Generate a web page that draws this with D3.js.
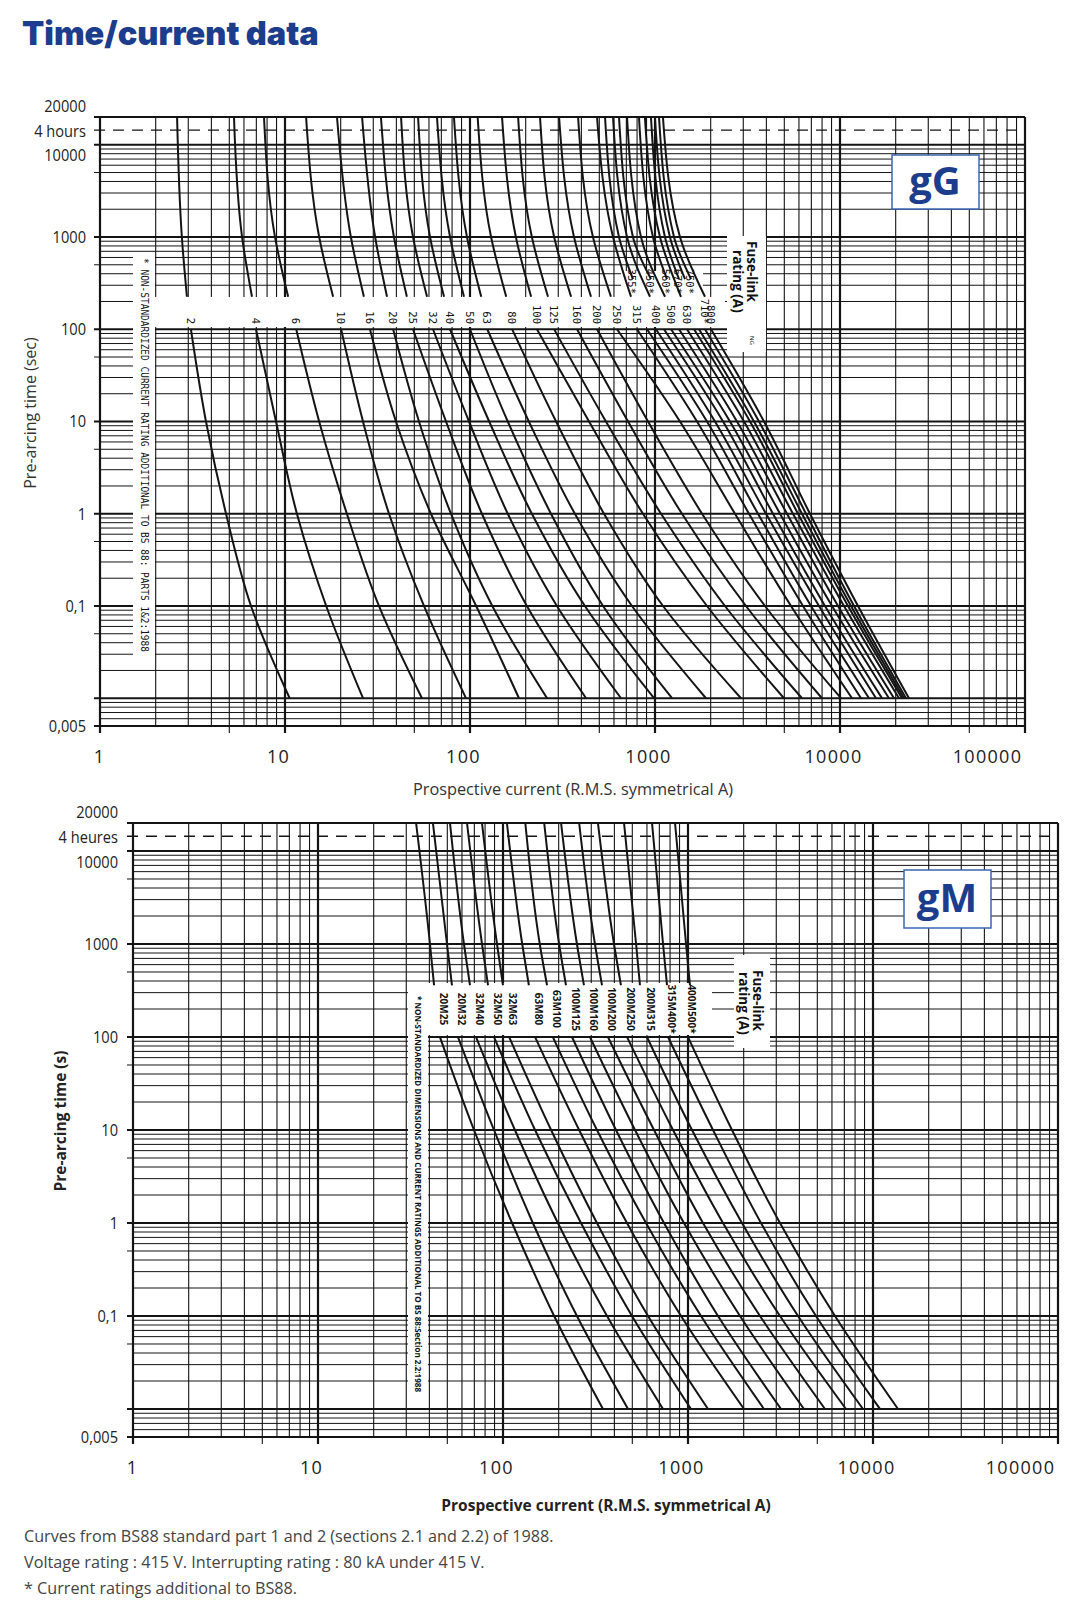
<!DOCTYPE html>
<html><head><meta charset="utf-8">
<script src="https://cdn.jsdelivr.net/npm/d3@7"></script>
<style>body{margin:0;background:#fff}svg{display:block}</style>
</head><body>
<svg id="c" width="1080" height="1602"></svg>
<script>
// ---------------- DATA ----------------
const xTickValues = [1, 10, 100, 1000, 10000, 100000];
const yTickValuesG = [20000, 14400, 10000, 1000, 100, 10, 1, 0.1, 0.005];
const yTickLabelsG = ['20000', '4 hours', '10000', '1000', '100', '10', '1', '0,1', '0,005'];
const yTickValuesM = [20000, 14400, 10000, 1000, 100, 10, 1, 0.1, 0.005];
const yTickLabelsM = ['20000', '4 heures', '10000', '1000', '100', '10', '1', '0,1', '0,005'];

// gG fuse-links
const ratingsG = ['2','4','6','10','16','20','25','32','40','50','63','80','100','125','160','200','250','315','355*','400','450*','500','560*','630','670*','710*','750*','800'];
const upperRowLabelsG = ['355*','450*','560*','670*','750*'];
const upperTimesG = [20000, 1000];          // + end time below
const upperEndTimeG = 225, upperEndTimeGStar = 350;
const lowerTimesG = [100, 10, 1, 0.1, 0.01];
const upperCurrentsG = [
 [2.61,2.77,2.95],[5.30,5.86,6.63],[7.70,8.83,10.4],[13.0,15.3,18.2],[19.1,22.7,26.7],
 [26.1,30.7,35.6],[33.0,38.8,45.6],[42.4,49.2,58.6],[52.4,60.8,72.4],[66.3,78.0,92.8],
 [81.9,96.3,115],[110,130,157],[149,177,214],[182,216,264],[239,285,352],
 [303,365,451],[384,462,578],[486,593,742],[537,639,760],[593,706,940],
 [639,760,951],[706,840,1133],[819,975,1161],[882,1064,1382],[951,1132,1348],
 [999,1204,1453],[1051,1267,1565],[1104,1365,1863]
];
const lowerCurrentsG = [
 [3.10,3.74,4.80,6.55,10.6],[6.97,8.94,11.6,16.7,26.4],[11.5,15.3,21.6,32.2,55.0],
 [20.1,26.4,36.5,56.4,95.1],[28.8,39.8,61.5,108,184],[38.4,53.0,78.9,132,261],
 [49.2,74.2,116,203,424],[63.1,98.8,160,295,655],[78.0,127,216,418,988],
 [100,160,274,524,1236],[124,208,369,751,1887],[169,292,530,1105,2917],
 [230,440,861,1910,4981],[285,543,1078,2390,6232],[379,715,1399,3104,7991],
 [486,917,1796,3933,10124],[623,1365,2706,5434,11613],[799,1687,3222,6310,12989],
 [905,1910,3604,6970,14350],[1012,2110,3981,7700,15654],[1118,2332,4343,8298,16865],
 [1221,2543,4740,9055,18400],[1348,2774,5171,9754,19584],[1489,3028,5569,10510,20840],
 [1625,3263,5929,11050,21630],[1729,3428,6232,11470,22170],[1863,3649,6550,11910,22740],
 [2008,3883,6883,12510,23600]
];

// gM fuse-links
const ratingsM = ['20M25','20M32','32M40','32M50','32M63','63M80','63M100','100M125','100M160','100M200','200M250','200M315','315M400*','400M500*'];
const upperTimesM = [20000, 1000, 360];
const lowerTimesM = [100, 10, 1, 0.1, 0.01];
const upperCurrentsM = [
 [33.9,40.3,42.4],[41.8,49.8,53.0],[51.7,61.5,66.3],[63.9,77.0,83.0],[77.0,92.8,100],
 [105,127,138],[132,158,173],[167,201,219],[206,251,274],[258,314,343],
 [326,398,434],[451,524,550],[639,733,770],[851,976,1025]
];
const lowerCurrentsM = [
 [45.6,69.7,112,189,347],[57.1,89.4,145,251,474],[71.5,116,198,365,733],
 [89.4,149,264,498,1038],[108,182,322,608,1283],[149,258,468,917,2008],
 [186,322,593,1176,2575],[236,408,742,1453,3182],[295,517,951,1910,4236],
 [369,655,1205,2450,5503],[468,830,1546,3143,7146],[600,1051,1958,3933,8830],
 [780,1365,2481,4920,10910],[1000,1729,3143,6232,13650]
];

// ---------------- DRAWING ----------------
const svg = d3.select('#c');
const fontNum = "'Open Sans','Noto Sans',sans-serif";
const fontText = "'Open Sans','Noto Sans',sans-serif";
const blue = '#1c3d8c';
const ink = '#141414';

svg.append('rect').attr('width',1080).attr('height',1602).attr('fill','#fff');

svg.append('text').attr('x',22).attr('y',45).text('Time/current data')
  .attr('font-family',"Inter,'Open Sans',sans-serif").attr('font-weight',900)
  .attr('font-size',32.5).attr('fill',blue);

function drawPanel(p) {
  const g = svg.append('g');
  const x = d3.scaleLog().domain([1, 1e5]).range([p.x0, p.x1]);
  const y = d3.scaleLog().domain([20000, 0.005]).range([p.y0, p.y1]);

  // vertical grid
  const vVals = [];
  for (let e = 0; e < 5; e++) for (let m = 1; m <= 9; m++) vVals.push({v: m * Math.pow(10, e), major: m === 1, five: m === 5});
  vVals.push({v: 1e5, major: true, five: false});
  g.append('g').selectAll('line').data(vVals).join('line')
    .attr('x1', d => x(d.v)).attr('x2', d => x(d.v))
    .attr('y1', p.y0).attr('y2', d => (d.major || d.five) ? p.y1 + 7 : p.y1)
    .attr('stroke', ink).attr('stroke-width', d => d.major ? 2.2 : 1.1);

  // horizontal grid
  const mults = [1,2,3,4,5,6,7,8,9];
  const hVals = [];
  for (let e = -3; e <= 4; e++) for (const m of mults) {
    const v = m * Math.pow(10, e);
    if (v >= 0.00499 && v <= 10001) hVals.push({v, major: m === 1 || v < 0.00501, five: m === 5});
  }
  hVals.push({v: 20000, major: true, five: false});
  g.append('g').selectAll('line').data(hVals).join('line')
    .attr('x1', d => (d.major || d.five) ? p.x0 - 6 : p.x0).attr('x2', p.x1)
    .attr('y1', d => y(d.v)).attr('y2', d => y(d.v))
    .attr('stroke', ink).attr('stroke-width', d => d.major ? 2.2 : 1.0);

  // 4 hours dashed line
  g.append('line').attr('x1', p.x0 - 6).attr('x2', p.x1).attr('y1', y(14400)).attr('y2', y(14400))
    .attr('stroke', ink).attr('stroke-width', 1.3).attr('stroke-dasharray', '11,8');

  // y axis labels (horizontally condensed)
  const pad = p.x0 - p.yLabelRight;
  const ya = g.append('g').attr('transform', `translate(${p.x0},0)`)
    .call(d3.axisLeft(y).tickValues(p.yTicks).tickFormat((d, i) => p.yLabels[i]).tickSize(0).tickPadding(pad));
  ya.select('.domain').remove();
  ya.selectAll('text').attr('font-family', fontNum).attr('font-size', 17).attr('fill', '#222')
    .attr('x', -pad / 0.86).attr('transform', 'scale(0.86,1)')
    .attr('dy', d => d === 20000 ? '-0.3em' : d === 14400 ? '0.38em' : d === 10000 ? '0.95em' : '0.32em');

  // x axis labels
  const xa = g.append('g').attr('transform', `translate(0,${p.y1})`)
    .call(d3.axisBottom(x).tickValues(xTickValues).tickFormat(d3.format('d')).tickSize(0).tickPadding(p.xLabPad));
  xa.select('.domain').remove();
  xa.selectAll('text').attr('font-family', fontNum).attr('font-size', 18).attr('fill', '#222')
    .attr('letter-spacing', 1.3)
    .attr('dx', d => d === 1 ? -1 : d === 100000 ? -38 : -7);

  // white label areas
  g.append('g').selectAll('rect').data(p.whites).join('rect')
    .attr('x', d => d[0]).attr('y', d => d[1]).attr('width', d => d[2]).attr('height', d => d[3])
    .attr('fill', '#fff');

  // curves
  const line = d3.line().x(d => x(d[0])).y(d => y(d[1])).curve(d3.curveMonotoneY);
  const cg = g.append('g').attr('fill', 'none').attr('stroke', ink).attr('stroke-width', 2);
  p.ratings.forEach((r, i) => {
    const ut = p.upperTimes(r);
    const up = p.upper[i].map((c, k) => [c, ut[k]]);
    const lo = p.lower[i].map((c, k) => [c, p.lowerTimes[k]]);
    cg.append('path').attr('d', line(up));
    cg.append('path').attr('d', line(lo));
  });

  return {g, x, y};
}

// ---- gG panel ----
const G = drawPanel({
  x0: 100, x1: 1025, y0: 117, y1: 726,
  yTicks: yTickValuesG, yLabels: yTickLabelsG, yLabelRight: 86, xLabPad: 24,
  whites: [[133,252,22,406],[155,297,570,30],[621,271,82,27],[727,236,39,116]],
  ratings: ratingsG, upper: upperCurrentsG, lower: lowerCurrentsG, lowerTimes: lowerTimesG,
  upperTimes: r => upperTimesG.concat([r.endsWith('*') ? upperEndTimeGStar : upperEndTimeG])
});
// gG curve labels
G.g.append('g').selectAll('text').data(ratingsG).join('text')
  .attr('transform', (r, i) => {
    const top = upperRowLabelsG.includes(r);
    const xx = top ? G.x(upperCurrentsG[i][2]) - 1 : G.x(lowerCurrentsG[i][0]) + (r === '710*' ? 6 : 0);
    return `translate(${xx},${top ? 294 : 324}) rotate(90)`;
  })
  .attr('text-anchor', 'end').attr('dominant-baseline', 'central')
  .attr('font-family', "'DejaVu Sans Mono',monospace").attr('font-size', 10.5).attr('fill', '#111')
  .text(r => r);

// gG note
G.g.append('text').attr('transform', 'translate(144,258) rotate(90)')
  .attr('dominant-baseline', 'central')
  .attr('font-family', "'DejaVu Sans Mono',monospace").attr('font-size', 10).attr('fill', '#111')
  .attr('textLength', 394).attr('lengthAdjust', 'spacingAndGlyphs')
  .text('* NON-STANDARDIZED CURRENT RATING ADDITIONAL TO BS 88: PARTS 1&2:1988');

// Fuse-link box gG
G.g.append('text').attr('transform', 'translate(752,241) rotate(90)').attr('dominant-baseline','central')
  .attr('font-family', fontText).attr('font-weight', 700).attr('font-size', 13.5).attr('fill', '#111').text('Fuse-link');
G.g.append('text').attr('transform', 'translate(738,250) rotate(90)').attr('dominant-baseline','central')
  .attr('font-family', fontText).attr('font-weight', 700).attr('font-size', 13.5).attr('fill', '#111').text('rating (A)');
G.g.append('text').attr('transform', 'translate(752,336) rotate(90)').attr('dominant-baseline','central')
  .attr('font-family', fontText).attr('font-size', 6).attr('fill', '#111').text('NG');

// gG box
svg.append('rect').attr('x', 892).attr('y', 155).attr('width', 87).attr('height', 54)
  .attr('fill', '#fff').attr('stroke', '#3a66b0').attr('stroke-width', 1.5);
svg.append('text').attr('x', 935).attr('y', 195).attr('text-anchor', 'middle')
  .attr('font-family', fontText).attr('font-weight', 700).attr('font-size', 40).attr('fill', blue).text('gG');

// gG titles
svg.append('text').attr('transform', 'translate(36,413) rotate(-90)').attr('text-anchor', 'middle')
  .attr('font-family', fontText).attr('font-size', 16).attr('fill', '#333').text('Pre-arcing time (sec)');
svg.append('text').attr('x', 573).attr('y', 795).attr('text-anchor', 'middle')
  .attr('font-family', fontText).attr('font-size', 16.3).attr('fill', '#333').text('Prospective current (R.M.S. symmetrical A)');

// ---- gM panel ----
const M = drawPanel({
  x0: 133, x1: 1058, y0: 823, y1: 1437,
  yTicks: yTickValuesM, yLabels: yTickLabelsM, yLabelRight: 118, xLabPad: 24,
  whites: [[408,983,20,415],[428,983,284,52],[734,955,36,93]],
  ratings: ratingsM, upper: upperCurrentsM, lower: lowerCurrentsM, lowerTimes: lowerTimesM,
  upperTimes: r => upperTimesM
});
M.g.append('g').selectAll('text').data(ratingsM).join('text')
  .attr('transform', (r, i) => `translate(${M.x(lowerCurrentsM[i][0]) + 4},1009) rotate(90)`)
  .attr('text-anchor', 'middle').attr('dominant-baseline', 'central')
  .attr('font-family', fontNum).attr('font-weight', 700).attr('font-size', 10).attr('fill', '#111')
  .text(r => r);
M.g.append('text').attr('transform', 'translate(418,996) rotate(90)')
  .attr('dominant-baseline', 'central')
  .attr('font-family', fontNum).attr('font-weight', 700).attr('font-size', 9.5).attr('fill', '#111')
  .attr('textLength', 396).attr('lengthAdjust', 'spacingAndGlyphs')
  .text('* NON-STANDARDIZED DIMENSIONS AND CURRENT RATINGS ADDITIONAL TO BS 88:Section 2.2:1988');
M.g.append('text').attr('transform', 'translate(758,970) rotate(90)').attr('dominant-baseline','central')
  .attr('font-family', fontText).attr('font-weight', 700).attr('font-size', 13.5).attr('fill', '#111').text('Fuse-link');
M.g.append('text').attr('transform', 'translate(744,972) rotate(90)').attr('dominant-baseline','central')
  .attr('font-family', fontText).attr('font-weight', 700).attr('font-size', 13.5).attr('fill', '#111').text('rating (A)');

svg.append('rect').attr('x', 904).attr('y', 870).attr('width', 87).attr('height', 58)
  .attr('fill', '#fff').attr('stroke', '#3a66b0').attr('stroke-width', 1.5);
svg.append('text').attr('x', 947).attr('y', 912).attr('text-anchor', 'middle')
  .attr('font-family', fontText).attr('font-weight', 700).attr('font-size', 40).attr('fill', blue).text('gM');

svg.append('text').attr('transform', 'translate(66,1121) rotate(-90)').attr('text-anchor', 'middle')
  .attr('font-family', fontText).attr('font-weight', 700).attr('font-size', 15.5).attr('fill', '#222').text('Pre-arcing time (s)');
svg.append('text').attr('x', 606).attr('y', 1511).attr('text-anchor', 'middle')
  .attr('font-family', fontText).attr('font-weight', 700).attr('font-size', 15.5).attr('fill', '#222').text('Prospective current (R.M.S. symmetrical A)');

// footer
const footer = ['Curves from BS88 standard part 1 and 2 (sections 2.1 and 2.2) of 1988.',
  'Voltage rating : 415 V. Interrupting rating : 80 kA under 415 V.',
  '* Current ratings additional to BS88.'];
svg.append('g').selectAll('text').data(footer).join('text')
  .attr('x', 24).attr('y', (d, i) => 1542 + i * 26)
  .attr('font-family', fontText).attr('font-size', 16.2).attr('fill', '#444').text(d => d);
</script>
</body></html>
